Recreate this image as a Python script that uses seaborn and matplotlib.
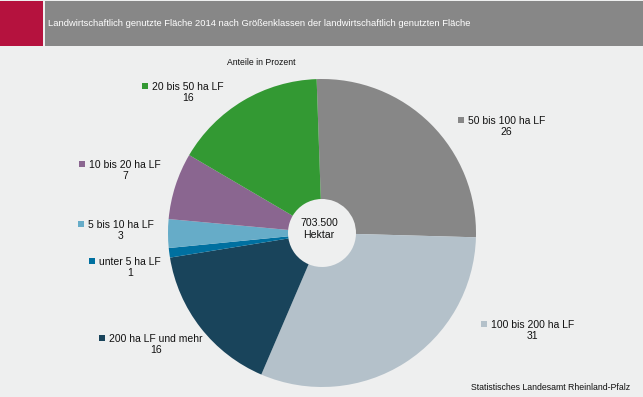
import matplotlib
matplotlib.use("Agg")
import matplotlib.pyplot as plt
import seaborn as sns
from matplotlib.patches import Rectangle

# ---- data ----
categories = ["50 bis 100 ha LF", "100 bis 200 ha LF", "200 ha LF und mehr",
              "unter 5 ha LF", "5 bis 10 ha LF", "10 bis 20 ha LF", "20 bis 50 ha LF"]
shares = [26, 31, 16, 1, 3, 7, 16]
total_label = "703.500\nHektar"
title = ("Landwirtschaftlich genutzte Fläche 2014 nach Größenklassen "
         "der landwirtschaftlich genutzten Fläche")
subtitle = "Anteile in Prozent"
source = "Statistisches Landesamt Rheinland-Pfalz"

# ---- styles / layout ----
colors = ["#878787", "#b4c1ca", "#19445b", "#0070a0", "#66acc8", "#8a6690", "#339933"]
label_pos = [(468, 120), (491, 324), (109, 338), (99, 261), (88, 224), (89, 164), (152, 86)]
BG = "#eeefef"
W, H = 643, 397

sns.set_style("white")
plt.rcParams["font.family"] = ["Liberation Sans", "DejaVu Sans"]

fig = plt.figure(figsize=(W / 100, H / 100), dpi=100, facecolor=BG)
ax = fig.add_axes([0, 0, 1, 1])
pal = sns.color_palette(colors)

ax.pie(shares, colors=pal, startangle=92, counterclock=False,
       center=(322, H - 233), radius=154,
       wedgeprops=dict(width=120, linewidth=0))
ax.set_xlim(0, W)
ax.set_ylim(0, H)
ax.set_aspect("auto")
ax.axis("off")

# header
ax.add_patch(Rectangle((0, H - 45.5), 43, 44.5, color="#b5123e", lw=0))
ax.add_patch(Rectangle((45, H - 45.5), W - 45, 44.5, color="#878787", lw=0))
ax.text(48, H - 23, title, color="white", fontsize=6.75,
        ha="left", va="center")
ax.text(261, H - 62.5, subtitle, color="#111111", fontsize=6.25,
        ha="center", va="center")

# center label
ax.text(319, H - 229, total_label, ha="center", va="center", fontsize=7.6,
        color="#111111", linespacing=1.15)

# slice labels
for cat, val, (lx, ly), c in zip(categories, shares, label_pos, colors):
    ax.text(lx, H - (ly + 6.5), f"{cat}\n{val}", ha="left", va="center",
            multialignment="center", fontsize=7.5, color="#111111",
            linespacing=1.15)
    ax.add_patch(Rectangle((lx - 10, H - ly - 3), 6, 6, color=c, lw=0))

# source
ax.text(630, H - 388, source, ha="right", va="center", fontsize=6.3,
        color="#111111")

fig.savefig("out.png", dpi=100, facecolor=BG)
